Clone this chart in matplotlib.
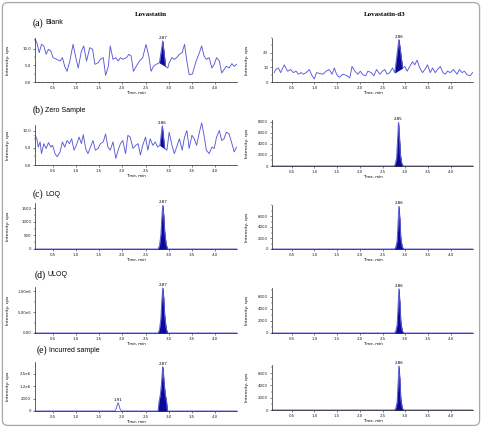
import matplotlib
matplotlib.use("Agg")
import matplotlib.pyplot as plt
import numpy as np
from matplotlib.ticker import MultipleLocator, AutoMinorLocator, FixedLocator, NullLocator
from matplotlib.patches import FancyBboxPatch

# --- data ---
# (a) blank, lovastatin
t_blank = [0.12, 0.16, 0.21, 0.26, 0.31, 0.36, 0.41, 0.46, 0.51, 0.59, 0.66, 0.71, 0.76, 0.81, 0.87,
           0.94, 1.00, 1.05, 1.12, 1.17, 1.23, 1.30, 1.36, 1.41, 1.48, 1.53, 1.59, 1.64, 1.70, 1.74,
           1.80, 1.86, 1.91, 1.96, 2.01, 2.09, 2.14, 2.19, 2.24, 2.30, 2.37, 2.44, 2.51, 2.57, 2.62,
           2.67, 2.73, 2.80, 2.87, 2.93, 2.98, 3.01, 3.07, 3.12, 3.17, 3.23, 3.29, 3.34, 3.39, 3.44,
           3.51, 3.59, 3.66, 3.71, 3.76, 3.81, 3.87, 3.93, 3.98, 4.03, 4.09, 4.14, 4.19, 4.24, 4.30,
           4.36, 4.41, 4.46]
i_blank = [12.8, 11.8, 8.8, 11.3, 10.8, 8.3, 9.8, 9.3, 7.3, 6.8, 6.3, 7.3, 4.7, 3.2, 6.3,
           11.3, 7.3, 4.2, 9.3, 10.8, 6.3, 10.3, 9.8, 5.3, 5.8, 6.8, 7.3, 2.0, 4.7, 10.8,
           6.8, 7.3, 6.3, 7.3, 6.8, 7.3, 8.3, 7.8, 3.2, 4.7, 6.3, 7.3, 11.3, 7.8, 3.2,
           4.7, 5.3, 5.8, 12.3, 4.7, 4.2, 5.8, 7.3, 6.8, 7.3, 8.3, 8.8, 11.3, 6.3, 2.2,
           2.4, 6.3, 8.8, 10.8, 7.8, 6.8, 7.3, 4.2, 5.3, 7.3, 6.3, 2.7, 3.7, 4.7, 4.2,
           5.5, 4.7, 5.3]

# (a) blank, lovastatin-d3
t_blank_d3 = [0.12, 0.15, 0.21, 0.26, 0.34, 0.41, 0.48, 0.54, 0.60, 0.65, 0.71, 0.76, 0.82, 0.89, 0.95,
              1.00, 1.05, 1.13, 1.19, 1.26, 1.33, 1.39, 1.44, 1.49, 1.55, 1.63, 1.72, 1.78, 1.83, 1.89,
              1.96, 2.01, 2.07, 2.13, 2.18, 2.25, 2.31, 2.37, 2.44, 2.50, 2.55, 2.60, 2.66, 2.72, 2.77,
              2.86, 2.94, 2.99, 3.04, 3.10, 3.16, 3.21, 3.26, 3.32, 3.38, 3.43, 3.49, 3.55, 3.60, 3.66,
              3.71, 3.77, 3.83, 3.88, 3.93, 3.99, 4.06, 4.14, 4.19, 4.25, 4.30, 4.36, 4.43, 4.48]
i_blank_d3 = [6.4, 8.5, 9.6, 6.4, 11.7, 7.4, 8.5, 6.4, 7.4, 5.3, 6.4, 5.3, 6.4, 8.5, 4.3,
              2.1, 6.4, 5.7, 5.3, 7.4, 8.5, 5.3, 9.6, 5.3, 3.2, 5.3, 4.3, 2.8, 10.6, 7.4,
              5.3, 7.4, 4.9, 4.3, 7.4, 6.4, 4.3, 8.5, 5.3, 7.4, 8.5, 5.3, 6.4, 9.6, 6.4,
              29.0, 9.6, 10.6, 7.4, 10.6, 13.8, 11.7, 14.9, 9.6, 6.4, 8.5, 11.7, 6.4, 9.6, 6.4,
              8.5, 10.6, 6.4, 5.3, 7.4, 6.4, 8.5, 5.3, 8.5, 6.4, 7.4, 4.9, 4.3, 6.4]

# (b) zero sample, lovastatin
t_zero = [0.12, 0.16, 0.19, 0.23, 0.26, 0.31, 0.36, 0.41, 0.46, 0.50, 0.55, 0.60, 0.66, 0.71, 0.76,
          0.81, 0.86, 0.91, 0.96, 1.01, 1.07, 1.12, 1.16, 1.21, 1.26, 1.31, 1.37, 1.42, 1.48, 1.53,
          1.59, 1.64, 1.69, 1.74, 1.80, 1.86, 1.91, 1.96, 2.01, 2.07, 2.12, 2.17, 2.23, 2.29, 2.34,
          2.39, 2.44, 2.50, 2.55, 2.60, 2.66, 2.71, 2.76, 2.81, 2.86, 2.91, 2.96, 3.01, 3.07, 3.12,
          3.17, 3.23, 3.29, 3.34, 3.39, 3.44, 3.50, 3.55, 3.60, 3.66, 3.71, 3.76, 3.81, 3.87, 3.93,
          3.98, 4.03, 4.09, 4.14, 4.19, 4.24, 4.30, 4.36, 4.41, 4.46]
i_zero = [8.6, 7.6, 5.2, 6.7, 3.3, 6.2, 4.8, 6.5, 5.2, 5.7, 3.3, 2.4, 3.8, 6.7, 5.2,
          7.1, 6.2, 7.6, 4.3, 5.7, 8.1, 6.2, 8.8, 4.8, 3.3, 5.0, 7.1, 4.3, 4.8, 6.2,
          6.7, 9.0, 5.2, 4.3, 6.7, 1.9, 4.3, 6.2, 7.1, 3.3, 8.6, 8.1, 4.8, 5.7, 6.2,
          2.9, 5.7, 8.1, 4.3, 7.6, 5.7, 6.7, 5.2, 5.7, 11.4, 4.8, 4.3, 9.5, 5.7, 3.3,
          5.2, 7.6, 4.3, 8.1, 10.0, 4.8, 8.6, 7.6, 5.7, 9.5, 12.2, 8.6, 4.3, 3.3, 5.2,
          4.8, 8.1, 10.0, 7.1, 7.6, 9.5, 9.0, 6.2, 3.8, 5.2]

# peak-only traces, left column
t_pk = [0.12, 2.77, 2.80, 2.83, 2.85, 2.87, 2.89, 2.91, 2.94, 2.97, 4.46]
i_loq = [0, 0, 120, 520, 1150, 1620, 1250, 650, 200, 0, 0]
i_uloq = [0, 0, 8.0e4, 3.4e5, 7.6e5, 1.08e6, 8.4e5, 4.3e5, 1.3e5, 0, 0]

t_inc = [0.12, 1.84, 1.87, 1.89, 1.91, 1.93, 1.95, 1.98, 2.77, 2.79, 2.82, 2.84, 2.86, 2.87,
         2.88, 2.90, 2.92, 2.95, 2.97, 4.46]
i_inc = [0, 0, 400, 950, 1330, 900, 350, 0, 0, 1500, 4.0e5, 1.3e6, 2.6e6, 3.2e6,
         2.7e6, 1.4e6, 5.0e5, 1500, 0, 0]

# peak-only traces, lovastatin-d3
t_pk_d3 = [0.07, 2.75, 2.78, 2.81, 2.83, 2.85, 2.87, 2.89, 2.92, 2.95, 4.48]
t_pk_d3b = [0.07, 2.76, 2.79, 2.82, 2.84, 2.86, 2.88, 2.90, 2.93, 2.96, 4.48]
i_zero_d3 = [0, 0, 300, 1500, 4600, 7900, 5400, 2100, 500, 0, 0]
i_loq_d3 = [0, 0, 280, 1400, 4400, 7800, 5300, 2000, 450, 0, 0]
i_uloq_d3 = [0, 0, 250, 1300, 4100, 7300, 5000, 1900, 420, 0, 0]
i_inc_d3 = [0, 0, 240, 1250, 4000, 7150, 4900, 1850, 400, 0, 0]

W, H = 482, 428
LINE = "#5a5ad8"
FILL = "#0a0a96"
FS = 2.9


def rect(x0, x1, y0, y1):
    return [x0 / W, 1 - y1 / H, (x1 - x0) / W, (y1 - y0) / H]


def setup(ax, xlim, ylim, yticks, ylabels, ylab_x, linear=True):
    ax.set_xlim(xlim)
    ax.set_ylim(ylim)
    for s in ["top", "right"]:
        ax.spines[s].set_visible(False)
    for s in ["left", "bottom"]:
        ax.spines[s].set_linewidth(0.5)
        ax.spines[s].set_color("#222222")
    ax.xaxis.set_major_locator(MultipleLocator(0.5))
    ax.xaxis.set_minor_locator(MultipleLocator(0.1))
    ax.yaxis.set_major_locator(FixedLocator(yticks))
    ax.set_yticklabels(ylabels)
    if linear:
        ax.yaxis.set_minor_locator(AutoMinorLocator(2))
    else:
        ax.yaxis.set_minor_locator(NullLocator())
    ax.tick_params(which="major", length=1.6, width=0.4, labelsize=FS, pad=1.2, colors="#222222")
    ax.tick_params(which="minor", length=0.9, width=0.3)
    ax.set_xlabel("Time, min", fontsize=FS, labelpad=0.8)
    ax.set_ylabel("Intensity, cps", fontsize=3.2)
    ax.yaxis.set_label_coords(ylab_x, 0.5)


def draw(ax, t, v, p0, p1, labels):
    t = np.array(t, dtype=float)
    v = np.array(v, dtype=float)
    ax.plot(t, v, color=LINE, lw=0.65, solid_joinstyle="round", clip_on=False)
    seg = (t >= p0) & (t <= p1)
    ts, vs = t[seg], v[seg]
    base = np.interp(ts, [ts[0], ts[-1]], [vs[0], vs[-1]])
    ax.fill_between(ts, vs, base, color=FILL, lw=0.3, edgecolor=FILL)
    for lt, txt in labels:
        ax.annotate(txt, (lt, np.interp(lt, t, v)), xytext=(0, 0.6), textcoords="offset points",
                    ha="center", va="bottom", fontsize=FS)


fig = plt.figure(figsize=(W / 100, H / 100), dpi=100)
fig.patches.append(FancyBboxPatch((0.005, 0.006), 0.99, 0.988, boxstyle="round,pad=0,rounding_size=0.012",
                                  transform=fig.transFigure, fill=False, ec="#a8a8a8", lw=0.9))

LX = (35, 237)
RX = (272, 473)
XL = (0.12, 4.47)
XR = (0.07, 4.49)

# row (a)
ax = fig.add_axes(rect(*LX, 38, 82))
draw(ax, t_blank, i_blank, 2.80, 2.93, [(2.87, "2.87")])
setup(ax, XL, (0, 13.2), [0, 5, 10], ["0.0", "5.0", "10.0"], -0.125)
ax = fig.add_axes(rect(*RX, 38, 82))
draw(ax, t_blank_d3, i_blank_d3, 2.77, 2.94, [(2.86, "2.86")])
setup(ax, XR, (0, 30), [0, 10, 20], ["0", "10", "20"], -0.115)

# row (b)
ax = fig.add_axes(rect(*LX, 125, 165))
draw(ax, t_zero, i_zero, 2.81, 2.91, [(2.86, "2.86")])
setup(ax, XL, (0, 11.6), [0, 5, 10], ["0.0", "5.0", "10.0"], -0.125)
ax = fig.add_axes(rect(*RX, 120, 166))
draw(ax, t_pk_d3, i_zero_d3, 2.75, 2.95, [(2.85, "2.85")])
setup(ax, XR, (0, 8300), [0, 2000, 4000, 6000, 8000], ["0", "2000", "4000", "6000", "8000"], -0.115)

# row (c)
ax = fig.add_axes(rect(*LX, 203, 249))
draw(ax, t_pk, i_loq, 2.77, 2.97, [(2.87, "2.87")])
setup(ax, XL, (0, 1700), [0, 500, 1000, 1500], ["0", "500", "1000", "1500"], -0.125)
ax = fig.add_axes(rect(*RX, 205, 249))
draw(ax, t_pk_d3b, i_loq_d3, 2.76, 2.96, [(2.86, "2.86")])
setup(ax, XR, (0, 8000), [0, 2000, 4000, 6000], ["0", "2000", "4000", "6000"], -0.115)

# row (d)
ax = fig.add_axes(rect(*LX, 287, 333))
draw(ax, t_pk, i_uloq, 2.77, 2.97, [(2.87, "2.87")])
setup(ax, XL, (0, 1.1e6), [0, 5e5, 1e6], ["0.00", "5.00e5", "1.00e6"], -0.125)
ax = fig.add_axes(rect(*RX, 288, 333))
draw(ax, t_pk_d3b, i_uloq_d3, 2.76, 2.96, [(2.86, "2.86")])
setup(ax, XR, (0, 7400), [0, 2000, 4000, 6000], ["0", "2000", "4000", "6000"], -0.115)

# row (e), left axis has a broken scale
brk_v = [-2000, 0, 2000, 1.2e6, 2.5e6, 3.8e6]
brk_s = [-1, 0, 1, 2, 3, 4]
ax = fig.add_axes(rect(*LX, 362, 411))
ax.set_yscale("function", functions=(lambda y: np.interp(y, brk_v, brk_s),
                                     lambda s: np.interp(s, brk_s, brk_v)))
draw(ax, t_inc, i_inc, 2.77, 2.97, [(1.91, "1.91"), (2.87, "2.87")])
setup(ax, XL, (0, 3.7e6), [0, 2000, 1.2e6, 2.5e6], ["0", "2000", "1.2e6", "2.5e6"], -0.125, linear=False)
ax = fig.add_axes(rect(*RX, 365, 410))
draw(ax, t_pk_d3b, i_inc_d3, 2.76, 2.96, [(2.86, "2.86")])
setup(ax, XR, (0, 7300), [0, 2000, 4000, 6000], ["0", "2000", "4000", "6000"], -0.115)

# titles and row labels
fig.text(151 / W, 1 - 15 / H, "Lovastatin", fontsize=5, fontweight="bold", family="Liberation Serif",
         ha="center", va="center")
fig.text(385 / W, 1 - 15 / H, "Lovastatin-d3", fontsize=5, fontweight="bold", family="Liberation Serif",
         ha="center", va="center")
rows = [("(a)", "Blank", 33, 23), ("(b)", "Zero Sample", 33, 110), ("(c)", "LOQ", 33, 194),
        ("(d)", "ULOQ", 35, 275), ("(e)", "Incurred sample", 37, 350)]
for tag, name, x, y in rows:
    fig.text(x / W, 1 - y / H, tag, fontsize=7, family="Liberation Serif", va="center")
    fig.text((x + 12) / W, 1 - y / H, name, fontsize=5, family="Liberation Sans", va="center")

fig.savefig("out.png", dpi=100)
